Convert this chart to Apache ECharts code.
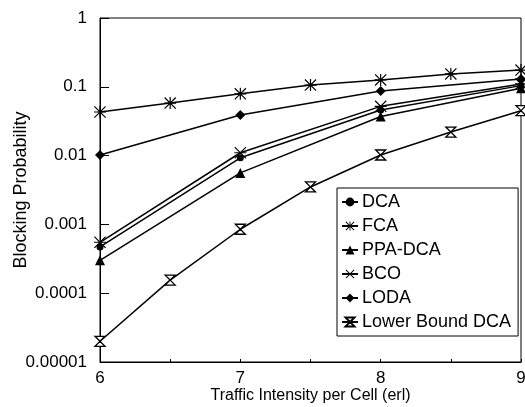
<!DOCTYPE html>
<html><head><meta charset="utf-8">
<script src="https://cdn.jsdelivr.net/npm/echarts@6/dist/echarts.min.js"></script>
<style>html,body{margin:0;padding:0;background:#fff}#c{width:525px;height:407px}</style>
</head><body><div id="c"></div>
<script>
const xHalf = [6, 6.5, 7, 7.5, 8, 8.5, 9];
const xInt = [6, 7, 8, 9];
const dca = [0.00047, 0.0093, 0.046, 0.104];
const fca = [0.043, 0.058, 0.079, 0.106, 0.126, 0.154, 0.175];
const ppaDca = [0.0003, 0.0056, 0.037, 0.095];
const bco = [0.00055, 0.011, 0.052, 0.11];
const loda = [0.0102, 0.039, 0.087, 0.13];
const lowerBound = [0.00002, 0.000155, 0.00085, 0.0035, 0.0102, 0.022, 0.045];
const yTickLabels = ['0.00001', '0.0001', '0.001', '0.01', '0.1', '1'];
const xTickLabels = ['6', '7', '8', '9'];

const FONT = '"Liberation Sans", Arial, sans-serif';
const ASTER = 'path://M0,9L20,9L20,11L0,11ZM9,0L11,0L11,20L9,20ZM1.4,0L20,18.6L18.6,20L0,1.4ZM18.6,0L20,1.4L1.4,20L0,18.6Z';
const XBAR = 'path://M0,9L20,9L20,11L0,11ZM1.4,0L20,18.6L18.6,20L0,1.4ZM18.6,0L20,1.4L1.4,20L0,18.6Z';
const HOUR = 'path://M0,0L16,0L8,10L16,20L0,20L8,10Z';

function pairs(xs, ys) { return xs.map((x, i) => [x, ys[i]]); }
function ser(name, xs, ys, symbol, size, hollow) {
  return {
    name, type: 'line', data: pairs(xs, ys), symbol, symbolSize: size,
    clip: false,
    lineStyle: { color: '#000', width: 1.5 },
    itemStyle: hollow ? { color: '#fff', borderColor: '#000', borderWidth: 1.3 } : { color: '#000', borderWidth: 0 },
    emphasis: { disabled: true }
  };
}
const chart = echarts.init(document.getElementById('c'), null, { renderer: 'canvas' });
chart.setOption({
  animation: false,
  textStyle: { fontFamily: FONT },
  grid: { left: 100, right: 4, top: 18, bottom: 45, show: true, borderColor: '#000', borderWidth: 1,
    outerBoundsMode: 'none', containLabel: false },
  xAxis: {
    type: 'value', min: 6, max: 9, interval: 0.5,
    name: 'Traffic Intensity per Cell (erl)', nameLocation: 'middle', nameGap: 26,
    nameMoveOverlap: false,
    nameTextStyle: { fontSize: 16, color: '#000', fontFamily: FONT },
    axisLine: { lineStyle: { color: '#000' } },
    axisTick: { inside: true, length: 3, lineStyle: { color: '#000' } },
    splitLine: { show: false },
    axisLabel: { fontSize: 17, color: '#000', margin: 8, fontFamily: FONT,
      formatter: v => Number.isInteger(v) ? xTickLabels[v - 6] : '' }
  },
  yAxis: {
    type: 'log', logBase: 10, min: 0.00001, max: 1,
    name: 'Blocking Probability', nameLocation: 'middle', nameGap: 70,
    nameMoveOverlap: false,
    nameTextStyle: { fontSize: 18, color: '#000', fontFamily: FONT },
    axisLine: { lineStyle: { color: '#000' } },
    axisTick: { inside: true, length: 9, lineStyle: { color: '#000' } },
    minorTick: { show: false },
    splitLine: { show: false },
    axisLabel: { fontSize: 17, color: '#000', margin: 13, fontFamily: FONT,
      formatter: v => yTickLabels[Math.round(Math.log10(v)) + 5] }
  },
  legend: {
    orient: 'vertical', left: 337, top: 188,
    backgroundColor: '#fff', borderColor: '#000', borderWidth: 1,
    padding: [5, 7, 5, 4], itemGap: 6, itemWidth: 16, itemHeight: 11,
    textStyle: { fontSize: 18, color: '#000', fontFamily: FONT, padding: [0, 0, 0, -1] },
    data: ['DCA', 'FCA', 'PPA-DCA', 'BCO', 'LODA', 'Lower Bound DCA']
  },
  series: [
    ser('DCA', xInt, dca, 'circle', 7),
    ser('FCA', xHalf, fca, ASTER, 12),
    ser('PPA-DCA', xInt, ppaDca, 'triangle', 10),
    ser('BCO', xInt, bco, XBAR, 12),
    ser('LODA', xInt, loda, 'diamond', 10),
    ser('Lower Bound DCA', xHalf, lowerBound, HOUR, 10, true)
  ]
});
</script></body></html>
